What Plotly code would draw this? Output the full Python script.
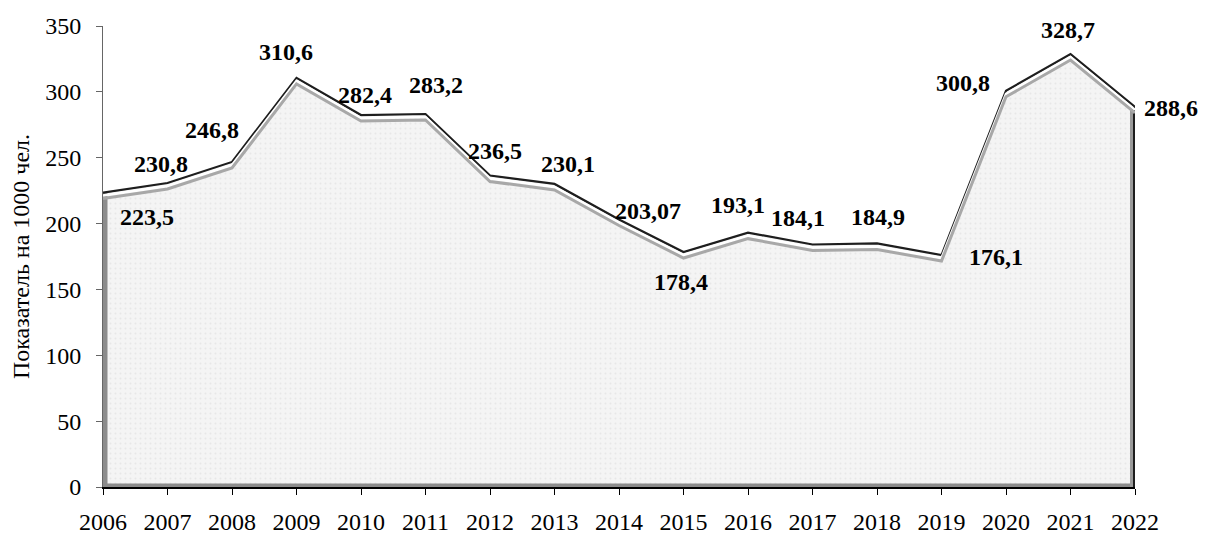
import plotly.graph_objects as go

years = [2006, 2007, 2008, 2009, 2010, 2011, 2012, 2013, 2014, 2015, 2016,
         2017, 2018, 2019, 2020, 2021, 2022]
values = [223.5, 230.8, 246.8, 310.6, 282.4, 283.2, 236.5, 230.1, 203.07,
          178.4, 193.1, 184.1, 184.9, 176.1, 300.8, 328.7, 288.6]
labels = ["223,5", "230,8", "246,8", "310,6", "282,4", "283,2", "236,5",
          "230,1", "203,07", "178,4", "193,1", "184,1", "184,9", "176,1",
          "300,8", "328,7", "288,6"]
y_title = "Показатель на 1000 чел."
y_ticks = [0, 50, 100, 150, 200, 250, 300, 350]

# label offsets in pixels (styling)
label_dx = [44, -7, -20, -11, 4, 10, 5, 13, 29, -3, -10, -15, 1, 54, -43, -3, 36]
label_dy = [-24, 19, 32, 26, 20, 29, 25, 20, 9, -30, 28, 27, 26, -2, 8, 24, -1]

FONT = "Liberation Serif"
FS = 24

fig = go.Figure()

# textured area
fig.add_trace(go.Scatter(
    x=years, y=values, mode="lines", fill="tozeroy",
    fillcolor="#f1f1f1",
    fillpattern=dict(shape=".", fgcolor="#d9d9d9", bgcolor="#f4f4f4",
                     size=5, solidity=0.15),
    line=dict(color="rgba(0,0,0,0)", width=0),
    hoverinfo="skip", showlegend=False, yaxis="y"))

# bevel edges of the area (left, bottom, right)
fig.add_trace(go.Scatter(
    x=[years[0], years[0]], y=[0, values[0]], mode="lines",
    line=dict(color="#8c8c8c", width=9),
    hoverinfo="skip", showlegend=False))
fig.add_trace(go.Scatter(
    x=[years[0], years[-1]], y=[0, 0], mode="lines",
    line=dict(color="#8c8c8c", width=7),
    hoverinfo="skip", showlegend=False))
fig.add_trace(go.Scatter(
    x=[years[-1], years[-1]], y=[0, values[-1]], mode="lines",
    line=dict(color="#9a9a9a", width=10),
    hoverinfo="skip", showlegend=False))
fig.add_trace(go.Scatter(
    x=[years[-1], years[-1]], y=[0, values[-1]], mode="lines",
    line=dict(color="#1e1e1e", width=4),
    hoverinfo="skip", showlegend=False))

# bevel: grey shadow line (shifted axis)
fig.add_trace(go.Scatter(
    x=years, y=values, mode="lines",
    line=dict(color="#a8a8a8", width=3),
    hoverinfo="skip", showlegend=False, yaxis="y3"))
# bevel: white highlight
fig.add_trace(go.Scatter(
    x=years, y=values, mode="lines",
    line=dict(color="#ffffff", width=2.5),
    hoverinfo="skip", showlegend=False, yaxis="y2"))
# dark top edge
fig.add_trace(go.Scatter(
    x=years, y=values, mode="lines",
    line=dict(color="#1e1e1e", width=2.2),
    showlegend=False, yaxis="y"))

for x, v, t, dx, dy in zip(years, values, labels, label_dx, label_dy):
    fig.add_annotation(x=x, y=v, text="<b>" + t + "</b>", showarrow=False,
                       xshift=dx, yshift=dy,
                       font=dict(family=FONT, size=FS, color="#000"))

H_PLOT = 461.0  # plot height in px for 350 units
def shifted(px):
    d = px * 350.0 / H_PLOT
    return [0 + d, 350 + d]

fig.update_layout(
    width=1202, height=530,
    margin=dict(l=95, r=75, t=18, b=51),
    paper_bgcolor="white", plot_bgcolor="white",
    font=dict(family=FONT, size=FS, color="#000"),
    xaxis=dict(range=[2006, 2022], tickmode="array", tickvals=years,
               ticktext=[str(y) for y in years],
               showgrid=False, zeroline=False, automargin=False,
               showline=True, linecolor="#000", linewidth=1.5,
               ticks="outside", ticklen=6, tickcolor="#000",
               ticklabelstandoff=6,
               tickfont=dict(family=FONT, size=FS)),
    yaxis=dict(range=[0, 350], tickvals=y_ticks, showgrid=False,
               zeroline=False, automargin=False,
               showline=True, linecolor="#666", linewidth=1,
               ticks="outside", ticklen=6, tickcolor="#666",
               ticklabelstandoff=10,
               tickfont=dict(family=FONT, size=FS),
               title=dict(text=y_title, font=dict(family=FONT, size=FS),
                          standoff=10)),
    yaxis2=dict(range=shifted(3), overlaying="y", visible=False),
    yaxis3=dict(range=shifted(6), overlaying="y", visible=False),
)

fig.write_html("out.html")
